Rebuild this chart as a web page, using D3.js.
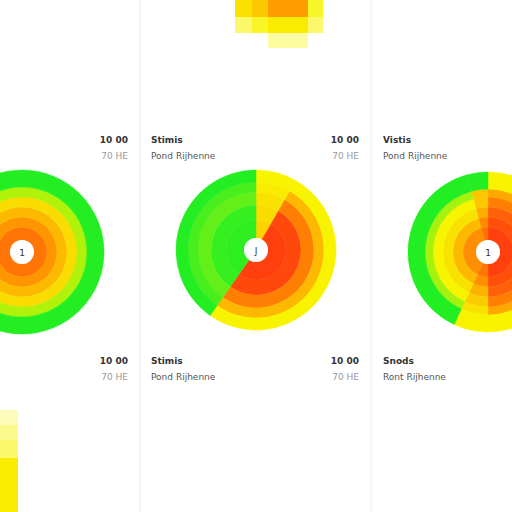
<!DOCTYPE html>
<html><head><meta charset="utf-8">
<script src="https://cdn.jsdelivr.net/npm/d3@7"></script>
<style>body{margin:0;background:#fff}</style></head>
<body><svg id="c" width="512" height="512"></svg>
<script>
// ring edges (px) and sector values (0=green .. 1=red)
const leftRings = [12, 25, 35, 45, 55, 65, 82];
const leftSectors = [
  { a0: 0, a1: 360, v: [0.78, 0.68, 0.55, 0.42, 0.22, 0] }
];
const midRings = [12, 30, 45, 58, 68, 80];
const midSectors = [
  { a0: 0, a1: 30, v: [0.45, 0.42, 0.4, 0.36, 0.33] },
  { a0: 30, a1: 215, v: [0.95, 0.92, 0.75, 0.55, 0.33] },
  { a0: 215, a1: 360, v: [0.02, 0.03, 0.1, 0.06, 0] }
];
const rightRings = [12, 25, 35, 45, 55, 63, 80];
const rightSectors = [
  { a0: 0, a1: 180, v: [0.95, 0.9, 0.85, 0.75, 0.62, 0.33] },
  { a0: 180, a1: 205, v: [0.78, 0.7, 0.58, 0.48, 0.4, 0.33] },
  { a0: 205, a1: 345, v: [0.7, 0.55, 0.4, 0.33, 0.2, 0] },
  { a0: 345, a1: 360, v: [0.8, 0.72, 0.6, 0.5, 0.5, 0] }
];
const charts = [
  { cx: 22, cy: 252, rings: leftRings, sectors: leftSectors, mark: "1" },
  { cx: 256, cy: 250, rings: midRings, sectors: midSectors, mark: "J" },
  { cx: 488, cy: 252, rings: rightRings, sectors: rightSectors, mark: "1" }
];
const topCols = [235, 252, 268, 308, 323];
const topVals = [[0.4, 0.5, 0.66, 0.3], [0.2, 0.3, 0.36, 0.2], [null, null, 0.12, null]];
const topRows = [0, 17, 33, 48];
const blRows = [410, 425, 440, 458, 512];
const blVals = [0.08, 0.15, 0.2, 0.36];
const labelsNum = ["10 00", "70 HE"];
const labelsTxt = [["Stimis", "Pond Rijhenne"], ["Vistis", "Pond Rijhenne"], ["Stimis", "Pond Rijhenne"], ["Snods", "Ront Rijhenne"]];

const svg = d3.select("#c");
const color = d3.scaleLinear().domain([0, 0.33, 0.66, 1])
  .range(["#22ee22", "#f8f400", "#ff9c00", "#ff3010"]);
const pale = v => d3.interpolateRgb("#fffef0", "#f8f400")(v / 0.36);

// grid lines
svg.selectAll("line.g").data([140, 371]).join("line")
  .attr("x1", d => d).attr("x2", d => d).attr("y1", 0).attr("y2", 512)
  .attr("stroke", "#ececec");

// top block
topVals.forEach((row, i) => row.forEach((v, j) => {
  if (v === null) return;
  svg.append("rect").attr("x", topCols[j]).attr("y", topRows[i])
    .attr("width", topCols[j + 1] - topCols[j]).attr("height", topRows[i + 1] - topRows[i])
    .attr("fill", v >= 0.36 ? color(v) : pale(v));
}));
// bottom-left block
blVals.forEach((v, i) => {
  svg.append("rect").attr("x", 0).attr("y", blRows[i]).attr("width", 18)
    .attr("height", blRows[i + 1] - blRows[i]).attr("fill", v >= 0.33 ? color(v) : pale(v));
});

const arc = d3.arc();
charts.forEach(c => {
  const g = svg.append("g").attr("transform", `translate(${c.cx},${c.cy})`);
  c.sectors.forEach(s => s.v.forEach((v, k) => {
    g.append("path").attr("d", arc({
      innerRadius: c.rings[k], outerRadius: c.rings[k + 1],
      startAngle: s.a0 * Math.PI / 180, endAngle: s.a1 * Math.PI / 180
    })).attr("fill", color(v)).attr("stroke", color(v)).attr("stroke-width", 0.5);
  }));
  g.append("circle").attr("r", 12).attr("fill", "#fff");
  g.append("text").attr("text-anchor", "middle").attr("dy", 4).attr("font-size", 9)
    .attr("font-family", "DejaVu Sans").attr("fill", "#333").text(c.mark);
});

// labels
const rowsY = [140, 361];
const cols = [{ num: 128, txt: 151 }, { num: 359, txt: 383 }];
let li = 0;
rowsY.forEach(y => cols.forEach(col => {
  svg.append("text").attr("x", col.num).attr("y", y + 3).attr("text-anchor", "end")
    .attr("font-family", "DejaVu Sans").attr("font-weight", "bold").attr("font-size", 9)
    .attr("fill", "#333").text(labelsNum[0]);
  svg.append("text").attr("x", col.num).attr("y", y + 19).attr("text-anchor", "end")
    .attr("font-family", "DejaVu Sans").attr("font-size", 9).attr("fill", "#999").text(labelsNum[1]);
  const t = labelsTxt[li++];
  svg.append("text").attr("x", col.txt).attr("y", y + 3)
    .attr("font-family", "DejaVu Sans").attr("font-weight", "bold").attr("font-size", 9)
    .attr("fill", "#333").text(t[0]);
  svg.append("text").attr("x", col.txt).attr("y", y + 19)
    .attr("font-family", "DejaVu Sans").attr("font-size", 9).attr("fill", "#555").text(t[1]);
}));
</script></body></html>
